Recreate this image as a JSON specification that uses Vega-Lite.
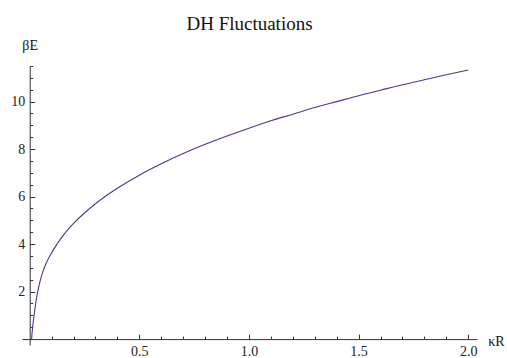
{
  "$schema": "https://vega.github.io/schema/vega-lite/v6.json",
  "autosize": "none",
  "width": 455,
  "height": 279,
  "padding": {"left": 22, "top": 66, "right": 30, "bottom": 13},
  "background": "white",
  "title": {
    "text": "DH Fluctuations",
    "font": "'Liberation Serif', 'Times New Roman', 'DejaVu Serif', serif",
    "fontSize": 19,
    "fontWeight": "normal",
    "color": "#111111",
    "anchor": "middle"
  },
  "config": {
    "view": {"stroke": null},
    "axis": {
      "grid": false,
      "labelFont": "'Liberation Serif', 'Times New Roman', 'DejaVu Serif', serif",
      "labelFontSize": 14,
      "labelColor": "#222222",
      "titleFont": "'Liberation Serif', 'Times New Roman', 'DejaVu Serif', serif",
      "titleFontSize": 14,
      "titleFontWeight": "normal",
      "titleColor": "#111111",
      "domainColor": "#333333",
      "tickColor": "#333333",
      "domainWidth": 1,
      "tickWidth": 1
    }
  },
  "data": {
    "values": [
      {"kR": 0.009, "bE": 0},
      {"kR": 0.0105, "bE": 0.2},
      {"kR": 0.013, "bE": 0.45},
      {"kR": 0.016, "bE": 0.7},
      {"kR": 0.02, "bE": 1.0},
      {"kR": 0.024, "bE": 1.28},
      {"kR": 0.028, "bE": 1.53},
      {"kR": 0.032, "bE": 1.76},
      {"kR": 0.038, "bE": 2.05},
      {"kR": 0.047, "bE": 2.42},
      {"kR": 0.058, "bE": 2.78},
      {"kR": 0.07, "bE": 3.08},
      {"kR": 0.085, "bE": 3.38},
      {"kR": 0.1, "bE": 3.63},
      {"kR": 0.115, "bE": 3.86},
      {"kR": 0.13, "bE": 4.07},
      {"kR": 0.16, "bE": 4.45},
      {"kR": 0.2, "bE": 4.87},
      {"kR": 0.25, "bE": 5.31},
      {"kR": 0.3, "bE": 5.7},
      {"kR": 0.4, "bE": 6.35},
      {"kR": 0.5, "bE": 6.9},
      {"kR": 0.6, "bE": 7.38},
      {"kR": 0.7, "bE": 7.81},
      {"kR": 0.8, "bE": 8.2},
      {"kR": 0.9, "bE": 8.55},
      {"kR": 1.0, "bE": 8.88},
      {"kR": 1.1, "bE": 9.19},
      {"kR": 1.2, "bE": 9.47},
      {"kR": 1.3, "bE": 9.75},
      {"kR": 1.4, "bE": 10.0},
      {"kR": 1.5, "bE": 10.25},
      {"kR": 1.6, "bE": 10.48},
      {"kR": 1.7, "bE": 10.71},
      {"kR": 1.8, "bE": 10.92},
      {"kR": 1.9, "bE": 11.13},
      {"kR": 2.0, "bE": 11.33}
    ]
  },
  "resolve": {"axis": {"x": "independent", "y": "independent"}},
  "layer": [
    {
      "mark": {"type": "line", "color": "#3d3d99", "strokeWidth": 1.1, "interpolate": "monotone"},
      "encoding": {
        "x": {
          "field": "kR", "type": "quantitative",
          "scale": {"domain": [-0.035, 2.04], "nice": false, "zero": false},
          "axis": {
            "orient": "bottom",
            "offset": -5.9,
            "values": [0.5, 1.0, 1.5, 2.0],
            "format": ".1f",
            "tickSize": -5,
            "labelPadding": 10,
            "title": "κR",
            "titleAlign": "center",
            "titleBaseline": "middle",
            "titleX": 474,
            "titleY": 2
          }
        },
        "y": {
          "field": "bE", "type": "quantitative",
          "scale": {"domain": [-0.25, 11.5], "nice": false, "zero": false},
          "axis": {
            "orient": "left",
            "offset": -7.7,
            "values": [2, 4, 6, 8, 10],
            "tickSize": -5,
            "labelPadding": 10,
            "title": "βE",
            "titleAngle": 0,
            "titleAlign": "center",
            "titleBaseline": "middle",
            "titleX": 0,
            "titleY": -21
          }
        }
      }
    },
    {
      "mark": {"type": "line", "opacity": 0},
      "encoding": {
        "x": {
          "field": "kR", "type": "quantitative",
          "scale": {"domain": [-0.035, 2.04], "nice": false, "zero": false},
          "axis": {
            "orient": "bottom",
            "offset": -5.9,
            "values": [0.1, 0.2, 0.3, 0.4, 0.6, 0.7, 0.8, 0.9, 1.1, 1.2, 1.3, 1.4, 1.6, 1.7, 1.8, 1.9],
            "labels": false,
            "domain": false,
            "tickSize": -3,
            "title": null
          }
        },
        "y": {
          "field": "bE", "type": "quantitative",
          "scale": {"domain": [-0.25, 11.5], "nice": false, "zero": false},
          "axis": {
            "orient": "left",
            "offset": -7.7,
            "values": [0.5, 1, 1.5, 2.5, 3, 3.5, 4.5, 5, 5.5, 6.5, 7, 7.5, 8.5, 9, 9.5, 10.5, 11, 11.5],
            "labels": false,
            "domain": false,
            "tickSize": -3,
            "title": null
          }
        }
      }
    }
  ]
}
